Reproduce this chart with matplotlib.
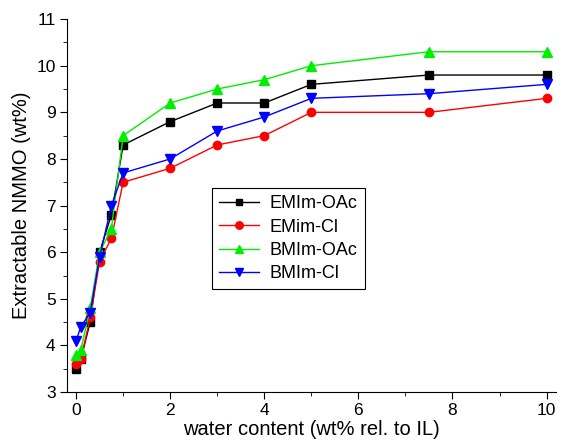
import matplotlib
matplotlib.use("Agg")
import matplotlib.pyplot as plt
from matplotlib.ticker import MultipleLocator

plt.rcParams['font.family'] = ['Liberation Sans', 'DejaVu Sans']

water = [0, 0.1, 0.3, 0.5, 0.75, 1, 2, 3, 4, 5, 7.5, 10]
emim_oac = [3.5, 3.7, 4.5, 6.0, 6.8, 8.3, 8.8, 9.2, 9.2, 9.6, 9.8, 9.8]
emim_cl = [3.6, 3.7, 4.6, 5.8, 6.3, 7.5, 7.8, 8.3, 8.5, 9.0, 9.0, 9.3]
bmim_oac = [3.8, 3.9, 4.8, 6.0, 6.5, 8.5, 9.2, 9.5, 9.7, 10.0, 10.3, 10.3]
bmim_cl = [4.1, 4.4, 4.7, 5.9, 7.0, 7.7, 8.0, 8.6, 8.9, 9.3, 9.4, 9.6]

fig = plt.figure(figsize=(5.67, 4.44), dpi=100)
ax = fig.add_axes([0.1176, 0.117, 0.8630, 0.840])

ax.plot(water, emim_oac, color='black', marker='s', ms=5.5, lw=1, label='EMIm-OAc')
ax.plot(water, emim_cl, color='red', marker='o', ms=6, lw=1, label='EMim-Cl')
ax.plot(water, bmim_oac, color='#00ee00', marker='^', ms=7, lw=1, label='BMIm-OAc')
ax.plot(water, bmim_cl, color='blue', marker='v', ms=7, lw=1, label='BMIm-Cl')

ax.set_xlim(-0.2, 10.2)
ax.set_ylim(3, 11)
ax.xaxis.set_major_locator(MultipleLocator(2))
ax.xaxis.set_minor_locator(MultipleLocator(1))
ax.yaxis.set_major_locator(MultipleLocator(1))
ax.yaxis.set_minor_locator(MultipleLocator(0.5))
ax.tick_params(which='both', direction='out', labelsize=12.5)
ax.tick_params(which='major', length=5, pad=3)
ax.tick_params(which='minor', length=3)
ax.spines['top'].set_visible(False)
ax.spines['right'].set_visible(False)

ax.set_xlabel('water content (wt% rel. to IL)', fontsize=14.5, labelpad=1)
ax.set_ylabel('Extractable NMMO (wt%)', fontsize=14.5, labelpad=4)

leg = ax.legend(loc='upper left', bbox_to_anchor=(0.297, 0.547), borderaxespad=0,
                fancybox=False, edgecolor='black', fontsize=13, handlelength=2.2,
                framealpha=1, labelspacing=0.35, markerscale=0.9, handletextpad=0.6)
leg.get_frame().set_linewidth(0.8)

fig.savefig('out.png', dpi=100)
